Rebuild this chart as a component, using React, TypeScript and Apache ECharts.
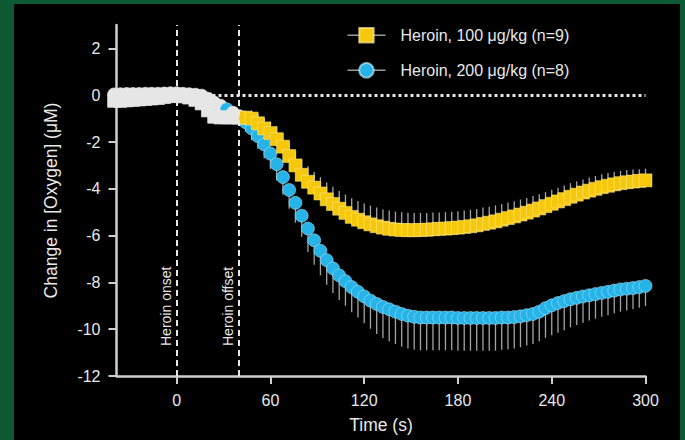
import React, { useEffect, useRef } from "react";
import * as echarts from "echarts";

// time (s) of each sample
const times = [
  -40, -36, -32, -28, -24, -20, -16, -12, -8, -4, 0,
  4, 8, 12, 16, 20, 24, 28, 32, 36, 40,
  44, 48, 52, 56, 60, 64, 68, 72, 76, 80, 84, 88, 92, 96, 100,
  104, 108, 112, 116, 120, 124, 128, 132, 136, 140, 144, 148, 152, 156, 160,
  164, 168, 172, 176, 180, 184, 188, 192, 196, 200, 204, 208, 212, 216, 220,
  224, 228, 232, 236, 240, 244, 248, 252, 256, 260, 264, 268, 272, 276, 280,
  284, 288, 292, 296, 300,
];

// Heroin 100 µg/kg mean change (µM)
const dose100 = [
  -0.24, -0.24, -0.22, -0.2, -0.18, -0.16, -0.14, -0.12, -0.08, -0.04, -0.02,
  -0.05, -0.1, -0.2, -0.35, -0.65, -0.92, -0.95, -0.95, -0.95, -0.96,
  -0.96, -1.0, -1.2, -1.42, -1.62, -1.88, -2.2, -2.6, -3.0, -3.4, -3.7, -3.95, -4.2, -4.45, -4.65,
  -4.85, -5.03, -5.2, -5.32, -5.43, -5.52, -5.6, -5.66, -5.71, -5.74, -5.76, -5.77, -5.77, -5.76, -5.75,
  -5.73, -5.71, -5.7, -5.68, -5.66, -5.63, -5.6, -5.56, -5.5, -5.45, -5.39, -5.32, -5.25, -5.18, -5.1,
  -5.02, -4.93, -4.84, -4.74, -4.64, -4.54, -4.44, -4.34, -4.25, -4.16, -4.08, -4.0, -3.93, -3.87, -3.81,
  -3.76, -3.72, -3.69, -3.66, -3.64,
];

// Heroin 200 µg/kg mean change (µM)
const dose200 = [
  0.03, 0.04, 0.05, 0.05, 0.05, 0.06, 0.06, 0.06, 0.07, 0.08, 0.08,
  0.06, 0.04, 0.02, -0.02, -0.15, -0.32, -0.45, -0.6, -0.75, -0.9,
  -1.15, -1.42, -1.75, -2.1, -2.5, -2.95, -3.5, -4.05, -4.6, -5.15, -5.7, -6.2, -6.65, -7.05, -7.4,
  -7.7, -7.95, -8.2, -8.4, -8.6, -8.78, -8.92, -9.05, -9.15, -9.25, -9.35, -9.42, -9.47, -9.5, -9.5,
  -9.5, -9.5, -9.5, -9.5, -9.52, -9.52, -9.52, -9.52, -9.52, -9.52, -9.52, -9.5, -9.5, -9.48, -9.45,
  -9.4, -9.35, -9.25, -9.1, -8.98, -8.88, -8.8, -8.72, -8.66, -8.6, -8.55, -8.5, -8.45, -8.4, -8.35,
  -8.3, -8.27, -8.24, -8.2, -8.15,
];

// SEM (shown one-sided)
const sem100 = [
  0.15, 0.15, 0.15, 0.15, 0.15, 0.15, 0.15, 0.15, 0.15, 0.15, 0.15,
  0.15, 0.15, 0.15, 0.15, 0.15, 0.15, 0.15, 0.15, 0.15, 0.15,
  0.3, 0.35, 0.4, 0.45, 0.5, 0.55, 0.58, 0.6, 0.62, 0.64, 0.66, 0.68, 0.7, 0.72, 0.74,
  0.76, 0.78, 0.8, 0.8, 0.8, 0.8, 0.8, 0.78, 0.78, 0.77, 0.76, 0.75, 0.74, 0.73, 0.72,
  0.72, 0.7, 0.7, 0.7, 0.7, 0.7, 0.7, 0.7, 0.7, 0.68, 0.68, 0.67, 0.66, 0.65, 0.64,
  0.63, 0.62, 0.61, 0.6, 0.6, 0.59, 0.58, 0.58, 0.57, 0.56, 0.56, 0.55, 0.55, 0.54, 0.53,
  0.52, 0.52, 0.51, 0.5, 0.5,
];

const sem200 = [
  0.15, 0.15, 0.15, 0.15, 0.15, 0.15, 0.15, 0.15, 0.15, 0.15, 0.15,
  0.15, 0.15, 0.15, 0.15, 0.15, 0.15, 0.15, 0.15, 0.15, 0.15,
  0.4, 0.5, 0.55, 0.6, 0.65, 0.7, 0.75, 0.8, 0.85, 0.9, 1.0, 1.05, 1.05, 1.05, 1.05,
  1.05, 1.05, 1.08, 1.1, 1.15, 1.2, 1.28, 1.33, 1.36, 1.38, 1.4, 1.4, 1.4, 1.4, 1.4,
  1.4, 1.4, 1.4, 1.4, 1.4, 1.4, 1.4, 1.4, 1.4, 1.4, 1.4, 1.38, 1.36, 1.34, 1.32,
  1.3, 1.28, 1.27, 1.27, 1.28, 1.27, 1.24, 1.2, 1.16, 1.12, 1.08, 1.05, 1.02, 1.0, 0.97,
  0.95, 0.93, 0.9, 0.88, 0.86,
];

const xTicks = [0, 60, 120, 180, 240, 300];
const yTicks = [-12, -10, -8, -6, -4, -2, 0, 2];
const heroinOnset = 0;
const heroinOffset = 40;
const infusionEnd = 40; // markers drawn white up to here
const peekTimes200 = [32];

const NAME100 = "Heroin, 100 μg/kg (n=9)";
const NAME200 = "Heroin, 200 μg/kg (n=8)";

const GREEN = "#0b5a33";
const TEXT = "#e8e8e8";
const AXIS = "#cfcfcf";
const WHITE = "#e6e6e6";
const YELLOW = "#f6c80c";
const BLUE = "#26b3e7";
const BAR = "#a4a4a4";
const FONT = "'Liberation Sans', Arial, Helvetica, sans-serif";

export default function App() {
  const ref = useRef<HTMLDivElement>(null);

  useEffect(() => {
    document.body.style.margin = "0";
    const chart = echarts.init(ref.current!, null, { renderer: "svg" });

    const pts100 = times.map((t, i) =>
      t <= infusionEnd
        ? { value: [t, dose100[i]], itemStyle: { color: WHITE, borderColor: WHITE } }
        : { value: [t, dose100[i]] }
    );
    const pts200 = times.map((t, i) =>
      t <= infusionEnd && peekTimes200.indexOf(t) < 0
        ? { value: [t, dose200[i]], itemStyle: { color: WHITE, borderColor: WHITE } }
        : { value: [t, dose200[i]] }
    );
    const err100 = times.map((t, i) => [t, dose100[i], dose100[i] + sem100[i]]);
    const err200 = times.map((t, i) => [t, dose200[i], dose200[i] - sem200[i]]);

    const errRender = (params: any, api: any) => {
      const a = api.coord([api.value(0), api.value(1)]);
      const b = api.coord([api.value(0), api.value(2)]);
      return {
        type: "line",
        shape: { x1: a[0], y1: a[1], x2: b[0], y2: b[1] },
        style: { stroke: BAR, lineWidth: 1.3 },
      };
    };

    const option: any = {
      animation: false,
      backgroundColor: "#000",
      textStyle: { fontFamily: FONT },
      grid: { left: 102.5, right: 34.5, top: 21, bottom: 64, containLabel: false },
      legend: {
        data: [NAME100, NAME200],
        orient: "vertical",
        left: 332.7,
        top: 23,
        padding: 0,
        itemWidth: 38,
        itemHeight: 18,
        itemGap: 18.7,
        lineStyle: { color: "#9a9a9a", width: 1.5, opacity: 1 },
        textStyle: { color: TEXT, fontSize: 16, fontFamily: FONT, padding: [0, 0, 0, 10] },
      },
      xAxis: {
        type: "value",
        min: -38.5,
        max: 300,
        name: "Time (s)",
        nameLocation: "middle",
        nameGap: 40,
        nameTextStyle: { color: TEXT, fontSize: 17.5, fontFamily: FONT },
        axisLine: { show: true, onZero: false, lineStyle: { color: AXIS, width: 2.5 } },
        axisTick: { show: true, length: 8, lineStyle: { color: AXIS, width: 2 }, customValues: xTicks },
        axisLabel: { color: TEXT, fontSize: 16, margin: 16, fontFamily: FONT, customValues: xTicks },
        splitLine: { show: false },
      },
      yAxis: {
        type: "value",
        min: -12,
        max: 3,
        name: "Change in [Oxygen] (μM)",
        nameLocation: "middle",
        nameGap: 57,
        nameTextStyle: { color: TEXT, fontSize: 17.5, fontFamily: FONT },
        axisLine: { show: true, onZero: false, lineStyle: { color: AXIS, width: 2.5 } },
        axisTick: { show: true, length: 8, lineStyle: { color: AXIS, width: 2 }, customValues: yTicks },
        axisLabel: { color: TEXT, fontSize: 16, margin: 16, fontFamily: FONT, customValues: yTicks },
        splitLine: { show: false },
      },
      series: [
        {
          type: "line",
          name: "refs",
          data: [],
          z: 0,
          silent: true,
          markLine: {
            silent: true,
            animation: false,
            symbol: ["none", "none"],
            data: [
              {
                yAxis: 0,
                lineStyle: { color: WHITE, width: 3, type: [3, 3] },
                label: { show: false },
              },
              {
                xAxis: heroinOnset,
                lineStyle: { color: WHITE, width: 2, type: [6, 4] },
                label: {
                  show: true,
                  formatter: "Heroin onset",
                  position: "insideStartTop",
                  distance: [30, 4],
                  color: TEXT,
                  fontSize: 14,
                  fontFamily: FONT,
                },
              },
              {
                xAxis: heroinOffset,
                lineStyle: { color: WHITE, width: 2, type: [6, 4] },
                label: {
                  show: true,
                  formatter: "Heroin offset",
                  position: "insideStartTop",
                  distance: [30, 4],
                  color: TEXT,
                  fontSize: 14,
                  fontFamily: FONT,
                },
              },
            ],
          },
        },
        {
          type: "custom",
          name: "sem200",
          data: err200,
          z: 1,
          silent: true,
          encode: { x: 0, y: [1, 2] },
          renderItem: errRender,
        },
        {
          type: "custom",
          name: "sem100",
          data: err100,
          z: 1,
          silent: true,
          encode: { x: 0, y: [1, 2] },
          renderItem: errRender,
        },
        {
          type: "line",
          name: NAME200,
          data: pts200,
          z: 2,
          clip: false,
          symbol: "circle",
          symbolSize: 13,
          showAllSymbol: true,
          lineStyle: { opacity: 0, width: 0 },
          itemStyle: { color: BLUE, borderColor: "rgba(190,235,252,0.7)", borderWidth: 0.7 },
        },
        {
          type: "line",
          name: NAME100,
          data: pts100,
          z: 3,
          clip: false,
          symbol: "rect",
          symbolSize: 13,
          showAllSymbol: true,
          lineStyle: { opacity: 0, width: 0 },
          itemStyle: { color: YELLOW, borderColor: "rgba(255,236,160,0.7)", borderWidth: 0.7 },
        },
      ],
    };

    chart.setOption(option);
    return () => chart.dispose();
  }, []);

  return (
    <div style={{ position: "relative", width: 685, height: 440, background: GREEN }}>
      <div ref={ref} style={{ position: "absolute", left: 14, top: 4, width: 666, height: 436 }} />
    </div>
  );
}
